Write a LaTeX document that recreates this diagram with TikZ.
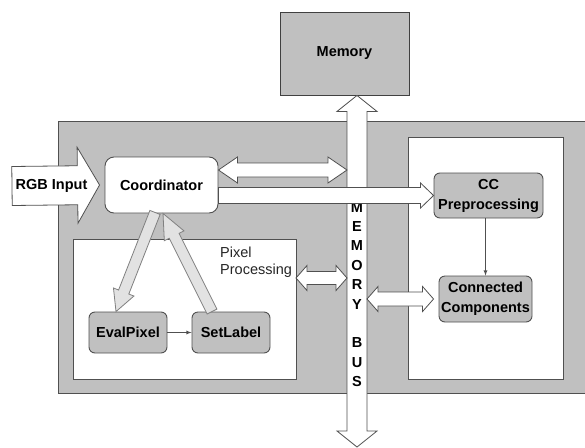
\documentclass[tikz,border=0pt]{standalone}
\usepackage{fontspec}
\setmainfont{Liberation Sans}
\usetikzlibrary{arrows,calc}

\definecolor{panel_gray}{RGB}{192,192,192}
\definecolor{arrow_gray}{RGB}{226,226,226}
\definecolor{edge_gray}{RGB}{80,80,80}

% block arrow: [style]{tail}{tip}{shaft half width}{head half width}{head length}
\newcommand{\fatarrow}[6][]{%
	\coordinate (fa_t) at (#2);
	\coordinate (fa_p) at (#3);
	\coordinate (fa_h) at ($(fa_p)!#6!(fa_t)$);
	\draw[#1] ($(fa_t)!#4!90:(fa_p)$) -- ($(fa_h)!#4!90:(fa_p)$) -- ($(fa_h)!#5!90:(fa_p)$) -- (fa_p)
		-- ($(fa_h)!#5!-90:(fa_p)$) -- ($(fa_h)!#4!-90:(fa_p)$) -- ($(fa_t)!#4!-90:(fa_p)$) -- cycle;
}
% double block arrow, same arguments
\newcommand{\fatdarrow}[6][]{%
	\coordinate (fa_a) at (#2);
	\coordinate (fa_b) at (#3);
	\coordinate (fa_ha) at ($(fa_a)!#6!(fa_b)$);
	\coordinate (fa_hb) at ($(fa_b)!#6!(fa_a)$);
	\draw[#1] (fa_a) -- ($(fa_ha)!#5!90:(fa_b)$) -- ($(fa_ha)!#4!90:(fa_b)$) -- ($(fa_hb)!#4!-90:(fa_a)$)
		-- ($(fa_hb)!#5!-90:(fa_a)$) -- (fa_b) -- ($(fa_hb)!#5!90:(fa_a)$) -- ($(fa_hb)!#4!90:(fa_a)$)
		-- ($(fa_ha)!#4!-90:(fa_b)$) -- ($(fa_ha)!#5!-90:(fa_b)$) -- cycle;
}

\begin{document}
\begin{tikzpicture}[x=1pt,y=-1pt,
	label_font/.style={font=\bfseries\fontsize{14.5}{20}\selectfont},
	panel_box/.style={draw=edge_gray,line width=0.9pt},
	main_node/.style={label_font,draw=edge_gray,line width=0.9pt,fill=panel_gray,rounded corners=6pt,align=center,inner sep=1pt},
	coord_node/.style={main_node,fill=white,rounded corners=9pt},
	flow_arrow/.style={draw=edge_gray,fill=white,line width=0.8pt,line join=miter},
	light_arrow/.style={draw=gray,fill=arrow_gray,line width=0.8pt},
	thin_arrow/.style={draw=edge_gray,line width=0.8pt,-latex}]
	\useasboundingbox (0,0) rectangle (585,447);

	% panels
	\draw[panel_box,fill=panel_gray] (58,121) rectangle (600,393);
	\draw[panel_box,fill=white] (73,239) rectangle (296,379);
	\draw[panel_box,fill=white] (408,137) rectangle (563,379);
	\coordinate (pix_box_e) at (296,309);

	\node[main_node,rounded corners=0pt,draw=black!75,minimum width=129,minimum height=83] (memory) at (344.5,53.5) {Memory};

	\node[coord_node,minimum width=113,minimum height=56] (coord) at (161.5,185) {Coordinator};
	\node[main_node,minimum width=78,minimum height=41] (eval) at (128,332.5) {EvalPixel};
	\node[main_node,minimum width=78,minimum height=41] (setlabel) at (231,332.5) {SetLabel};
	\node[main_node,minimum width=109,minimum height=45] (cc) at (488.5,195.5) {CC\\Preprocessing};
	\node[main_node,minimum width=93,minimum height=46] (conn) at (485.5,299) {Connected\\Components};

	\node[anchor=north west,inner sep=0pt,align=left,text=black!85,font=\fontsize{14.5}{17}\selectfont] (pix_label) at (220,246.5) {Pixel\\Processing};

	\coordinate (rgb_tail) at (12,186);
	\coordinate (bus_bot) at (357,447);
	\coordinate (bus_a) at (347,170);
	\coordinate (bus_b) at (347,278);
	\coordinate (bus_c) at (367,299);

	% memory bus
	\fatdarrow[flow_arrow]{memory.south -| bus_bot}{bus_bot}{10pt}{20pt}{16pt}
	\node[align=center,inner sep=0pt,font=\bfseries\fontsize{14.5}{19.4}\selectfont] (bus_label) at (357,294.5) {M\\E\\M\\O\\R\\Y\\~\\B\\U\\S};

	\fatarrow[flow_arrow]{rgb_tail}{$(coord.west)+(-5,0)$}{19.5pt}{38pt}{22pt}
	\node[label_font] (rgb_label) at (51.5,186) {RGB Input};

	\fatdarrow[flow_arrow]{coord.east |- bus_a}{bus_a}{7pt}{13pt}{19pt}
	\fatarrow[flow_arrow]{coord.east |- cc.west}{cc.west}{8pt}{12.5pt}{13pt}
	\fatdarrow[flow_arrow]{pix_box_e |- bus_b}{bus_b}{6.5pt}{12.5pt}{11pt}
	\fatdarrow[flow_arrow]{bus_c}{cc.west |- bus_c}{7pt}{12.5pt}{11pt}

	\fatarrow[light_arrow]{$(coord.south)+(-6.5,-1)$}{$(eval.north)+(-12,0)$}{5.5pt}{11pt}{21pt}
	\fatarrow[light_arrow]{$(setlabel.north)+(-19,0)$}{$(coord.south)+(1.5,0)$}{5.5pt}{11pt}{25pt}

	\draw[thin_arrow] (eval) -- (setlabel);
	\draw[thin_arrow] (conn.north |- cc.south) -- (conn.north);
\end{tikzpicture}
\end{document}
